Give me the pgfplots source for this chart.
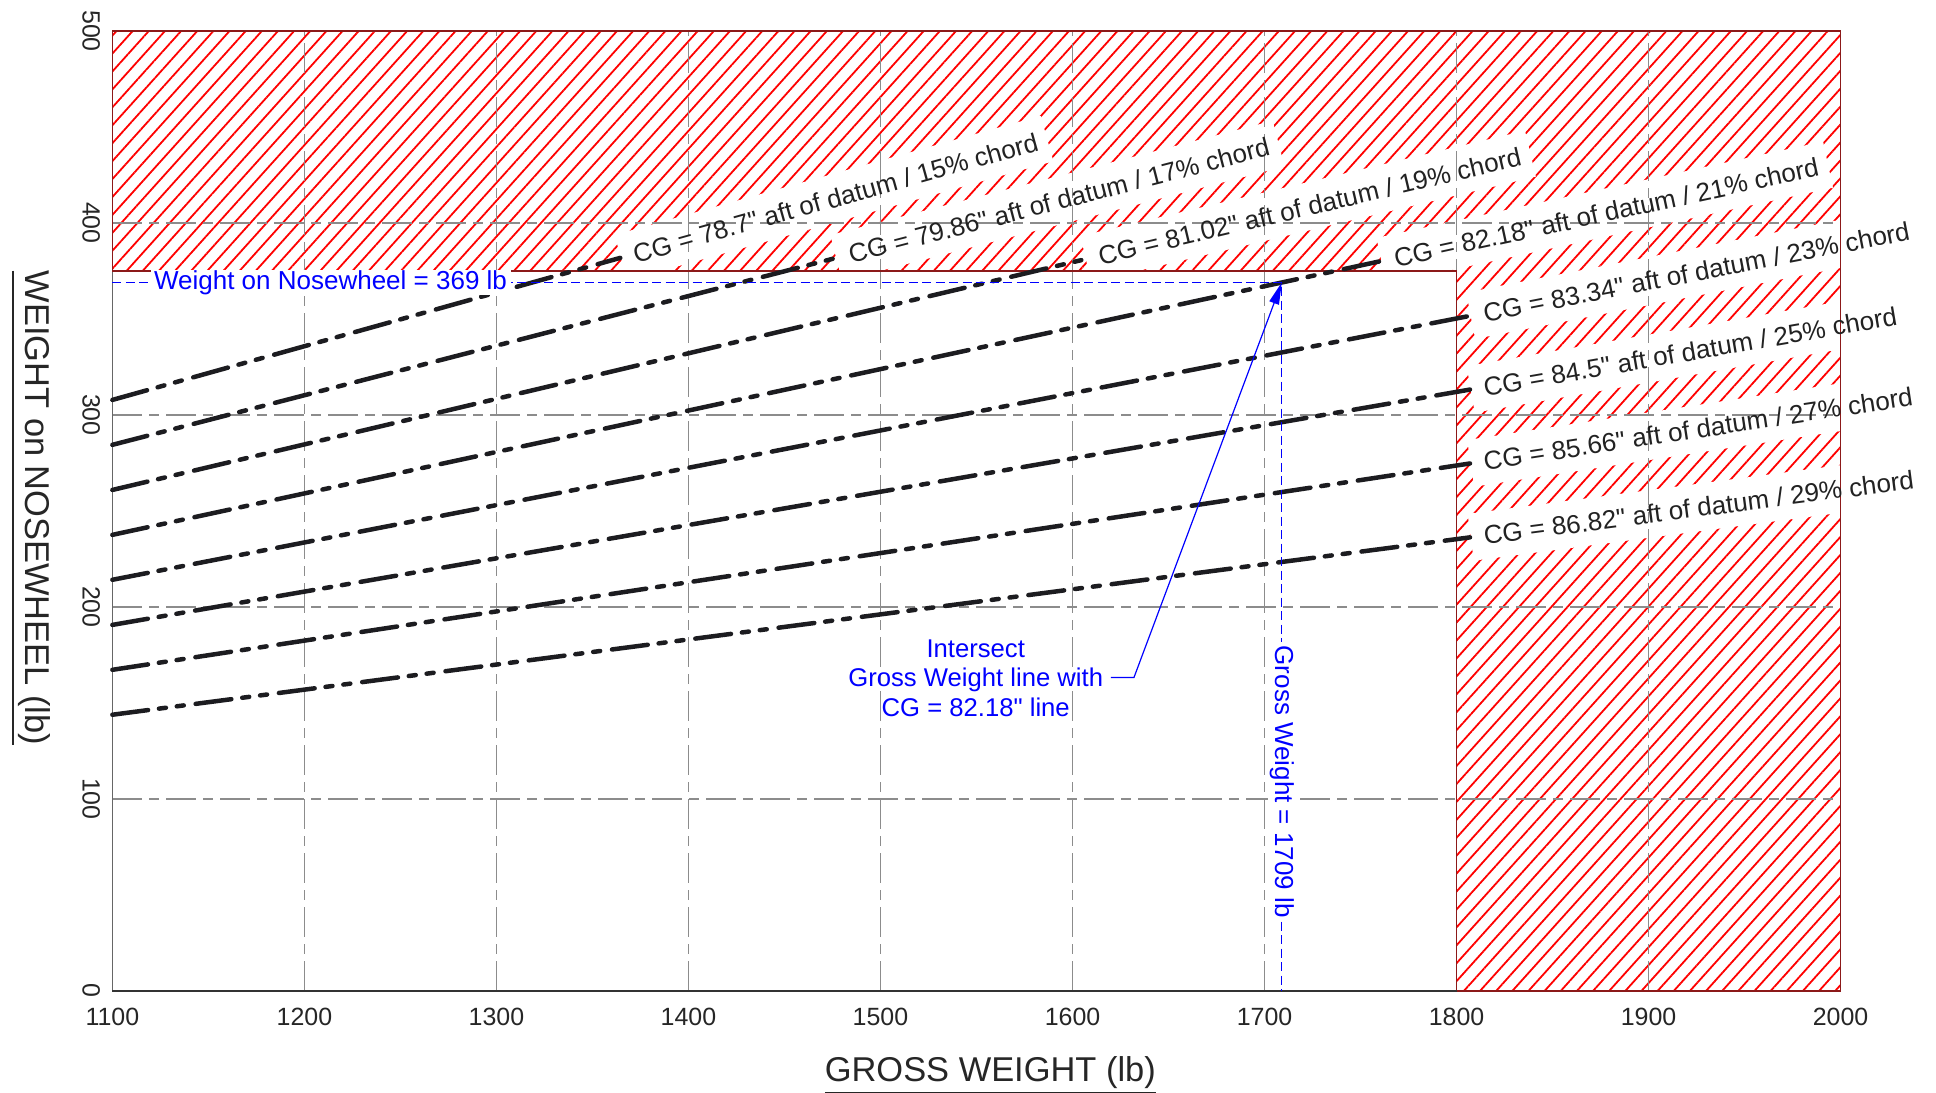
\documentclass[border=0pt]{standalone}
\usepackage{fontspec}
\setmainfont{Liberation Sans}[Ligatures=TeXOff]
\usepackage{pgfplots}
\pgfplotsset{compat=1.18}
\usetikzlibrary{patterns.meta, arrows.meta}

\definecolor{hatchred}{RGB}{255,0,0}
\definecolor{borderred}{RGB}{140,25,25}
\definecolor{gridgray}{RGB}{140,140,140}
\definecolor{curvecol}{RGB}{28,28,32}
\definecolor{labeltext}{RGB}{34,34,34}
\definecolor{annblue}{RGB}{0,0,255}

\tikzset{
  cgline/.style={curvecol, line width=0.045cm, line cap=round,
    dash pattern=on 0.36cm off 0.11cm on 0.07cm off 0.11cm on 0.07cm off 0.12cm},
  cglabel/.style={pos=1, sloped, anchor=west, text=labeltext, font=\fontsize{7.4}{9}\selectfont},
  cgbox/.style={pos=1, sloped, anchor=west, fill=white, inner ysep=4pt, font=\fontsize{7.4}{9}\selectfont},
}

\begin{document}
\begin{tikzpicture}
\begin{axis}[
  set layers,
  scale only axis, width=17.286cm, height=9.60cm,
  xmin=1100, xmax=2000, ymin=0, ymax=500,
  xtick={1100,1200,...,2000}, ytick={0,100,...,500},
  grid=major,
  major grid style={gridgray, line width=0.015cm, dash pattern=on 0.3cm off 0.07cm on 0.1cm off 0.07cm},
  major tick length=0pt,
  axis line style={draw=black!60, line width=0.015cm},
  tick label style={font=\fontsize{7.1}{8}\selectfont, text=black!85},
  /pgf/number format/assume math mode=true,
  /pgf/number format/1000 sep={},
  xticklabel shift=0.05cm,
  yticklabel style={rotate=-90, anchor=north},
  xlabel={\underline{GROSS WEIGHT (lb)}},
  ylabel={\underline{WEIGHT on NOSEWHEEL (lb)}},
  xlabel style={at={(axis description cs:0.508,-0.0885)}, anchor=center, font=\fontsize{9.8}{11}\selectfont, text=black!85},
  ylabel style={at={(axis description cs:-0.0474,0.503)}, anchor=center, rotate=180, font=\fontsize{9.8}{11}\selectfont, text=black!85},
  clip=false,
]
% hatched forbidden region
\addplot[on layer=axis background, draw=none, pattern={Lines[angle=48, distance=0.12cm, line width=0.018cm]}, pattern color=hatchred]
  coordinates {(1100,500) (1100,375) (1800,375) (1800,0) (2000,0) (2000,500)} -- cycle;
% white boxes behind labels
\addplot[on layer=axis background, draw=none] coordinates {(1100,307.8) (1364.5,381.8)} node[cgbox]{\phantom{CG = 78.7" aft of datum / 15\% chord}};
\addplot[on layer=axis background, draw=none] coordinates {(1100,284.4) (1476.6,381.7)} node[cgbox]{\phantom{CG = 79.86" aft of datum / 17\% chord}};
\addplot[on layer=axis background, draw=none] coordinates {(1100,260.9) (1606.6,381.1)} node[cgbox]{\phantom{CG = 81.02" aft of datum / 19\% chord}};
\addplot[on layer=axis background, draw=none] coordinates {(1100,237.5) (1760.5,380.1)} node[cgbox]{\phantom{CG = 82.18" aft of datum / 21\% chord}};
\addplot[on layer=axis background, draw=none] coordinates {(1100,214.1) (1807,351.6)} node[cgbox]{\phantom{CG = 83.34" aft of datum / 23\% chord}};
\addplot[on layer=axis background, draw=none] coordinates {(1100,190.6) (1807,313.2)} node[cgbox]{\phantom{CG = 84.5" aft of datum / 25\% chord}};
\addplot[on layer=axis background, draw=none] coordinates {(1100,167.2) (1807,274.7)} node[cgbox]{\phantom{CG = 85.66" aft of datum / 27\% chord}};
\addplot[on layer=axis background, draw=none] coordinates {(1100,143.8) (1807,236.2)} node[cgbox]{\phantom{CG = 86.82" aft of datum / 29\% chord}};

% border of forbidden region
\addplot[borderred, line width=0.015cm] coordinates {(1100,500) (1100,375) (1800,375) (1800,0) (2000,0) (2000,500)} -- cycle;
\addplot[black!80, line width=0.02cm] coordinates {(1100,0) (1800,0)};

% CG lines
\addplot[cgline] coordinates {(1100,307.8) (1364.5,381.8)} node[cglabel]{CG = 78.7" aft of datum / 15\% chord};
\addplot[cgline] coordinates {(1100,284.4) (1476.6,381.7)} node[cglabel]{CG = 79.86" aft of datum / 17\% chord};
\addplot[cgline] coordinates {(1100,260.9) (1606.6,381.1)} node[cglabel]{CG = 81.02" aft of datum / 19\% chord};
\addplot[cgline] coordinates {(1100,237.5) (1760.5,380.1)} node[cglabel]{CG = 82.18" aft of datum / 21\% chord};
\addplot[cgline] coordinates {(1100,214.1) (1807,351.6)} node[cglabel]{CG = 83.34" aft of datum / 23\% chord};
\addplot[cgline] coordinates {(1100,190.6) (1807,313.2)} node[cglabel]{CG = 84.5" aft of datum / 25\% chord};
\addplot[cgline] coordinates {(1100,167.2) (1807,274.7)} node[cglabel]{CG = 85.66" aft of datum / 27\% chord};
\addplot[cgline] coordinates {(1100,143.8) (1807,236.2)} node[cglabel]{CG = 86.82" aft of datum / 29\% chord};

% reading example
\addplot[annblue, line width=0.012cm, dash pattern=on 0.09cm off 0.045cm] coordinates {(1100,369) (1709,369) (1709,0)};
\addplot[annblue, line width=0.012cm, -{Triangle[length=0.22cm,width=0.1cm]}] coordinates {(1620,163.2) (1632,163.2) (1709,369)};
\node[text=annblue, fill=white, inner xsep=1pt, inner ysep=0pt, font=\fontsize{7.4}{9}\selectfont] at (axis cs:1213.6,369) {Weight on Nosewheel = 369 lb};
\node[text=annblue, fill=white, rotate=-90, inner xsep=1pt, inner ysep=0.5pt, font=\fontsize{7.4}{9}\selectfont] at (axis cs:1709,108.9) {Gross Weight = 1709 lb};
\node[text=annblue, align=center, font=\fontsize{7.3}{8.5}\selectfont] at (axis cs:1549.6,162.8) {Intersect\\Gross Weight line with\\CG = 82.18" line};
\end{axis}
\pgfresetboundingbox
\useasboundingbox ([shift={(-1.124cm,-1.02cm)}]current axis.south west) rectangle ([shift={(0.954cm,0.31cm)}]current axis.north east);
\end{tikzpicture}
\end{document}
